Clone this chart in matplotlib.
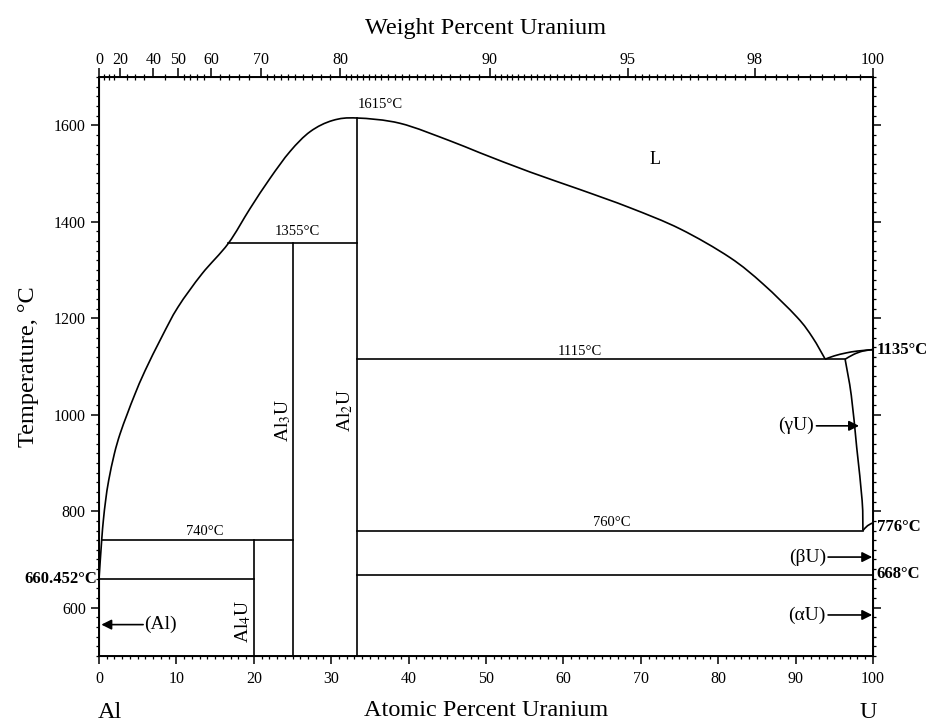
import numpy as np
import matplotlib
matplotlib.use('Agg')
import matplotlib.pyplot as plt
from matplotlib.path import Path
from matplotlib.patches import PathPatch
from matplotlib.ticker import MultipleLocator, NullFormatter, FixedLocator

plt.rcParams['font.family'] = ['Liberation Serif', 'DejaVu Serif']
plt.rcParams['mathtext.fontset'] = 'stix'

# liquidus, Al-rich side up to the Al2U maximum and down to the 1115 eutectic
liq_x = [0.0, 0.345, 0.56, 0.86, 1.25, 1.98, 2.71, 3.66, 4.65, 5.94,
         8.1, 10.2, 13.3, 16.7,
         19.5, 22.1, 24.7, 27.3, 30.2, 33.33, 38.9, 45.3, 49.2, 55.7,
         62.1, 68.6, 75.1, 81.5, 85.8, 90.2, 92.2, 93.8]
liq_t = [660.452, 740, 781, 823, 864, 919, 960, 1002, 1043, 1091,
         1161, 1223, 1292, 1355,
         1427, 1490, 1546, 1587, 1610, 1615, 1604, 1568, 1543, 1503,
         1467, 1429, 1385, 1326, 1271, 1202, 1160, 1116]

# U-rich corner
liq2_x = [93.8, 95.0, 96.5, 98.0, 100.0]
liq2_t = [1115, 1122, 1128, 1132, 1135]
sol_x = [96.4, 97.5, 98.7, 100.0]
sol_t = [1115, 1125, 1132, 1135]
gam_x = [96.4, 97.2, 97.9, 98.6, 98.7]
gam_t = [1115, 1040, 932, 822, 760]
bet_x = [98.7, 99.3, 100.0]
bet_t = [760, 770, 776]

# invariant lines: (x_start, x_end, T)
h_lines = [(16.7, 33.33, 1355), (33.33, 96.4, 1115), (0.345, 25.0, 740),
           (0.0, 20.0, 660.452), (33.33, 98.7, 760), (33.33, 100.0, 668)]
# compound lines: (x, T_top)
v_lines = [(20.0, 740), (25.0, 1355), (33.33, 1615)]

wt_ticks = [0, 20, 40, 50, 60, 70, 80, 90, 95, 98, 100]
M_U, M_AL = 238.03, 26.98


def wt2at(w):
    w = np.asarray(w, dtype=float)
    nu = w / M_U
    na = (100 - w) / M_AL
    return 100 * nu / (nu + na)


def smooth_curve(ax, xs, ys, lw):
    # Catmull-Rom through the read points, drawn as cubic Bezier segments
    p = np.column_stack([xs, ys]).astype(float)
    ext = np.vstack([p[0], p, p[-1]])
    verts = [p[0]]
    codes = [Path.MOVETO]
    for i in range(len(p) - 1):
        p0, p1, p2, p3 = ext[i], ext[i + 1], ext[i + 2], ext[i + 3]
        verts += [p1 + (p2 - p0) / 6, p2 - (p3 - p1) / 6, p2]
        codes += [Path.CURVE4] * 3
    ax.add_patch(PathPatch(Path(verts, codes), fill=False, ec='k', lw=lw))


fig = plt.figure(figsize=(9.28, 7.23), dpi=100)
ax = fig.add_axes([0.1067, 0.0927, 0.834, 0.8008])

lw = 1.2
smooth_curve(ax, liq_x, liq_t, lw)
smooth_curve(ax, liq2_x, liq2_t, lw)
smooth_curve(ax, sol_x, sol_t, lw)
smooth_curve(ax, gam_x, gam_t, lw)
smooth_curve(ax, bet_x, bet_t, lw)
for x0, x1, t in h_lines:
    ax.plot([x0, x1], [t, t], color='k', lw=lw)
for x, t in v_lines:
    ax.plot([x, x], [500, t], color='k', lw=lw)

ax.set_xlim(0, 100)
ax.set_ylim(500, 1700)
for s in ax.spines.values():
    s.set_linewidth(1.4)

ax.xaxis.set_major_locator(MultipleLocator(10))
ax.xaxis.set_minor_locator(MultipleLocator(1))
ax.yaxis.set_major_locator(MultipleLocator(200))
ax.yaxis.set_minor_locator(MultipleLocator(20))
ax.yaxis.set_ticks_position('both')
ax.tick_params(which='major', direction='out', length=6, width=1.1, labelsize=11.5)
ax.tick_params(which='minor', direction='out', length=2.5, width=0.9)
ax.tick_params(axis='x', which='both', top=False, pad=5)

# top axis: weight percent
axt = ax.twiny()
axt.set_xlim(0, 100)
axt.xaxis.set_major_locator(FixedLocator(wt2at(wt_ticks)))
axt.set_xticklabels([str(w) for w in wt_ticks])
minor_wt = np.concatenate([np.arange(0, 50, 5.0), np.arange(50, 70, 2.0),
                           np.arange(70, 80, 1.0), np.arange(80, 90, 0.5),
                           np.arange(90, 95, 0.25), np.arange(95, 100, 0.2)])
axt.xaxis.set_minor_locator(FixedLocator(wt2at(minor_wt)))
axt.xaxis.set_minor_formatter(NullFormatter())
axt.tick_params(axis='x', which='major', direction='out', length=6.5, width=1.1,
                labelsize=11.5, pad=0)
axt.tick_params(axis='x', which='minor', direction='inout', length=4, width=0.9,
                top=True)
axt.set_xlabel('Weight Percent Uranium', fontsize=17.5, labelpad=13)

ax.set_ylabel('Temperature, °C', fontsize=17.5, labelpad=11)
ax.set_xlabel('Atomic Percent Uranium', fontsize=17.5, labelpad=9)
fig.text(110 / 928, 1 - 712 / 723, 'Al', fontsize=17.5, ha='center', va='center')
fig.text(868 / 928, 1 - 712 / 723, 'U', fontsize=17.5, ha='center', va='center')

fs = 10.5
ax.text(36.4, 1643, '1615°C', fontsize=fs, ha='center', va='center')
ax.text(25.6, 1379, '1355°C', fontsize=fs, ha='center', va='center')
ax.text(62.1, 1132, '1115°C', fontsize=fs, ha='center', va='center')
ax.text(13.7, 759, '740°C', fontsize=fs, ha='center', va='center')
ax.text(66.3, 777, '760°C', fontsize=fs, ha='center', va='center')
ax.text(71.8, 1530, 'L', fontsize=13, ha='center', va='center')

ax.text(23.8, 988, 'Al$_3$U', fontsize=14, rotation=90, ha='center', va='center')
ax.text(31.8, 1008, 'Al$_2$U', fontsize=14, rotation=90, ha='center', va='center')
ax.text(18.6, 571, 'Al$_4$U', fontsize=14, rotation=90, ha='center', va='center')

bfs = 12
ax.text(-0.3, 660, '660.452°C', fontsize=bfs, fontweight='bold',
        ha='right', va='center', clip_on=False)
ax.text(100.5, 1135, '1135°C', fontsize=bfs, fontweight='bold',
        ha='left', va='center', clip_on=False)
ax.text(100.5, 767, '776°C', fontsize=bfs, fontweight='bold',
        ha='left', va='center', clip_on=False)
ax.text(100.5, 670, '668°C', fontsize=bfs, fontweight='bold',
        ha='left', va='center', clip_on=False)

arrow = dict(arrowstyle='-|>', color='k', lw=1.2, mutation_scale=15,
             shrinkA=0, shrinkB=0)
afs = 14
ax.annotate('', xy=(0.3, 565), xytext=(5.7, 565), arrowprops=arrow)
ax.text(5.8, 565, '(Al)', fontsize=afs, ha='left', va='center')
ax.annotate('', xy=(98.2, 977), xytext=(92.7, 977), arrowprops=arrow)
ax.text(92.4, 977, '(γU)', fontsize=afs, ha='right', va='center')
ax.annotate('', xy=(99.9, 705), xytext=(94.2, 705), arrowprops=arrow)
ax.text(93.9, 705, '(βU)', fontsize=afs, ha='right', va='center')
ax.annotate('', xy=(99.9, 585), xytext=(94.2, 585), arrowprops=arrow)
ax.text(93.9, 585, '(αU)', fontsize=afs, ha='right', va='center')

fig.savefig('out.png', dpi=100)
